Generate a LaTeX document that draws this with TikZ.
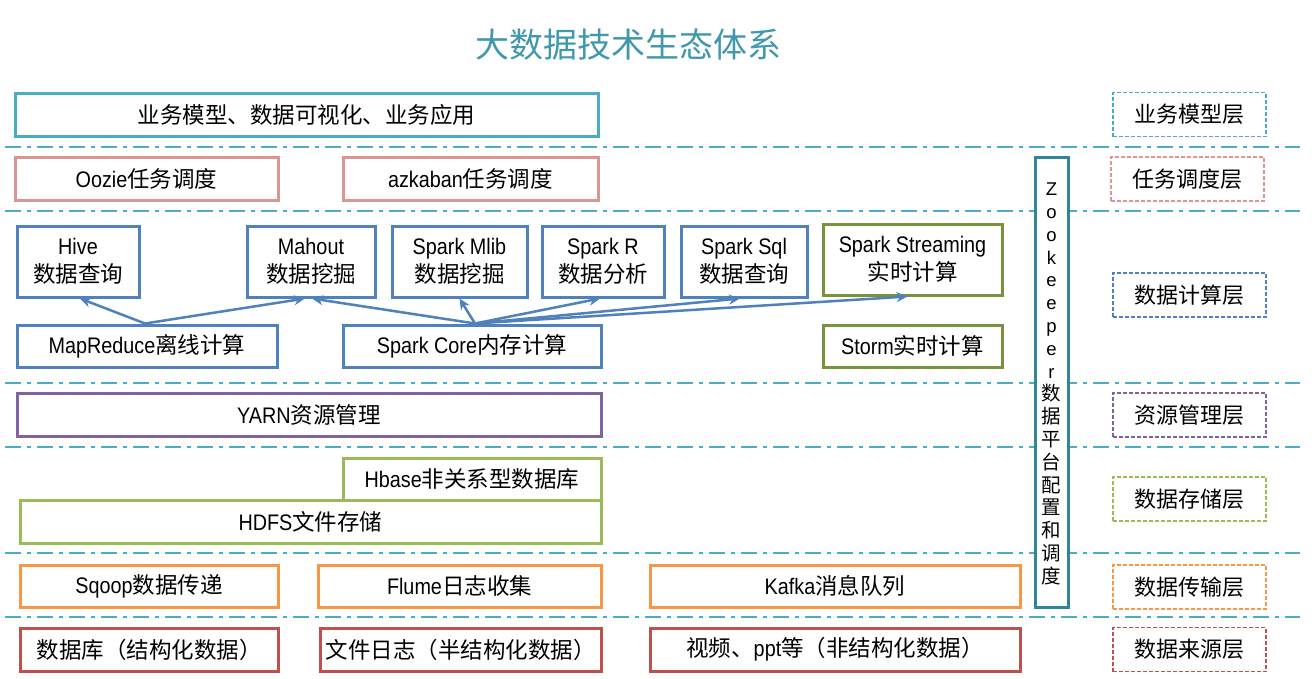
\documentclass[tikz,border=0pt]{standalone}
\usepackage{fontspec}
\setmainfont{Liberation Sans}
\newfontfamily\cjk{Noto Sans CJK SC}
\newfontfamily\lat{Liberation Sans}[FakeStretch=0.88]
\usetikzlibrary{arrows.meta}
\definecolor{cteal}{RGB}{75,172,198}
\definecolor{cpink}{RGB}{217,150,148}
\definecolor{cblue}{RGB}{79,129,189}
\definecolor{cdgreen}{RGB}{119,147,60}
\definecolor{cpurple}{RGB}{128,100,162}
\definecolor{clgreen}{RGB}{155,187,89}
\definecolor{corange}{RGB}{247,150,70}
\definecolor{cred}{RGB}{192,80,77}
\definecolor{czk}{RGB}{49,133,155}
\definecolor{ctitle}{RGB}{64,152,174}
\tikzset{
  box/.style={draw=#1, line width=3pt, fill=white, inner sep=0pt, align=center,
    font=\fontsize{22.5}{28}\cjk},
  lbl/.style={draw=#1, line width=1.8pt, dash pattern=on 4pt off 2pt, inner sep=0pt,
    minimum width=153pt, minimum height=44pt, font=\fontsize{22}{26}\cjk},
  sep/.style={draw=cteal, line width=2.5pt, dash pattern=on 16pt off 6pt on 4pt off 6pt},
  arr/.style={draw=cblue, line width=2.5pt, -{Stealth[length=11pt,width=10pt]}},
}
\begin{document}
\begin{tikzpicture}[x=1pt,y=-1pt]
\fill[white] (0,0) rectangle (1314,678);
\useasboundingbox (0,0) rectangle (1314,678);

% title
\node[text=ctitle, font=\fontsize{34}{38}\cjk] (title) at (628,45) {大数据技术生态体系};

% separators
\foreach \yy in {147,211,383,447,553,617}
  \draw[sep] (5,\yy) -- (1300,\yy);

% zookeeper
\node[draw=czk, line width=3pt, fill=white, minimum width=33pt, minimum height=450pt, inner sep=0pt] (zk) at (1051.5,382) {};
\node[align=center, font=\fontsize{18.5}{22.8}\selectfont, inner sep=0pt] (zkt) at (1051.5,384)
  {Z\\o\\o\\k\\e\\e\\p\\e\\r\\{\fontsize{19.5}{22.8}\cjk 数}\\{\fontsize{19.5}{22.8}\cjk 据}\\{\fontsize{19.5}{22.8}\cjk 平}\\{\fontsize{19.5}{22.8}\cjk 台}\\{\fontsize{19.5}{22.8}\cjk 配}\\{\fontsize{19.5}{22.8}\cjk 置}\\{\fontsize{19.5}{22.8}\cjk 和}\\{\fontsize{19.5}{22.8}\cjk 调}\\{\fontsize{19.5}{22.8}\cjk 度}};

% business layer
\node[box=cteal, minimum width=583pt, minimum height=43pt] (app) at (306.5,114.5) {业务模型、数据可视化、业务应用};

% scheduling
\node[box=cpink, minimum width=263pt, minimum height=43pt] (oozie) at (146.5,178.5) {{\lat Oozie}任务调度};
\node[box=cpink, minimum width=255pt, minimum height=43pt] (azk) at (470.5,178.5) {{\lat azkaban}任务调度};

% compute
\node[box=cblue, minimum width=122pt, minimum height=71pt] (hive) at (78,261.5) {{\lat Hive}\\数据查询};
\node[box=cblue, minimum width=128pt, minimum height=71pt] (mahout) at (311,261.5) {{\lat Mahout}\\数据挖掘};
\node[box=cblue, minimum width=135pt, minimum height=71pt] (mlib) at (459.5,261.5) {{\lat Spark Mlib}\\数据挖掘};
\node[box=cblue, minimum width=122pt, minimum height=71pt] (sparkr) at (603,261.5) {{\lat Spark R}\\数据分析};
\node[box=cblue, minimum width=126pt, minimum height=71pt] (sql) at (744,261.5) {{\lat Spark Sql}\\数据查询};
\node[box=cdgreen, minimum width=179pt, minimum height=71pt] (stream) at (912.5,259.5) {{\lat Spark Streaming}\\实时计算};
\node[box=cblue, minimum width=260pt, minimum height=42pt] (mr) at (147,346) {{\lat MapReduce}离线计算};
\node[box=cblue, minimum width=258pt, minimum height=42pt] (core) at (472,346) {{\lat Spark Core}内存计算};
\node[box=cdgreen, minimum width=179pt, minimum height=42pt] (storm) at (912.5,346) {{\lat Storm}实时计算};

\draw[arr] ([xshift=-2pt]mr.north) -- ([xshift=2pt]hive.south);
\draw[arr] ([xshift=-2pt]mr.north) -- ([xshift=-6pt]mahout.south);
\draw[arr] ([xshift=3pt]core.north) -- ([xshift=1pt]mahout.south);
\draw[arr] ([xshift=3pt]core.north) -- ([xshift=0pt]mlib.south);
\draw[arr] ([xshift=3pt]core.north) -- ([xshift=-3pt]sparkr.south);
\draw[arr] ([xshift=3pt]core.north) -- ([xshift=-4pt]sql.south);
\draw[arr] ([xshift=3pt]core.north) -- ([xshift=-5pt]stream.south);

% resource
\node[box=cpurple, minimum width=584pt, minimum height=43pt] (yarn) at (309,414.5) {{\lat YARN}资源管理};

% storage
\node[box=clgreen, minimum width=258pt, minimum height=42pt] (hbase) at (472,479) {{\lat Hbase}非关系型数据库};
\node[box=clgreen, minimum width=581pt, minimum height=43pt] (hdfs) at (310.5,521.5) {{\lat HDFS}文件存储};

% transport
\node[box=corange, minimum width=258pt, minimum height=42pt] (sqoop) at (149,586) {{\lat Sqoop}数据传递};
\node[box=corange, minimum width=283pt, minimum height=42pt] (flume) at (459.5,586) {{\lat Flume}日志收集};
\node[box=corange, minimum width=370pt, minimum height=42pt] (kafka) at (835,586) {{\lat Kafka}消息队列};

% sources
\node[box=cred, minimum width=258pt, minimum height=43pt] (db) at (149,649.5) {数据库（结构化数据）};
\node[box=cred, minimum width=281pt, minimum height=43pt] (log) at (460.5,649.5) {文件日志（半结构化数据）};
\node[box=cred, minimum width=370pt, minimum height=43pt] (video) at (835,649.5) {视频、{\lat ppt}等（非结构化数据）};

% layer labels
\node[lbl=cteal] (l1) at (1189.5,114.5) {业务模型层};
\node[lbl=cpink] (l2) at (1187.5,179) {任务调度层};
\node[lbl=cblue] (l3) at (1189.5,295) {数据计算层};
\node[lbl=cpurple] (l4) at (1189.5,415) {资源管理层};
\node[lbl=clgreen] (l5) at (1189.5,499) {数据存储层};
\node[lbl=corange] (l6) at (1189.5,587) {数据传输层};
\node[lbl=cred] (l7) at (1189.5,649.5) {数据来源层};
\end{tikzpicture}
\end{document}
